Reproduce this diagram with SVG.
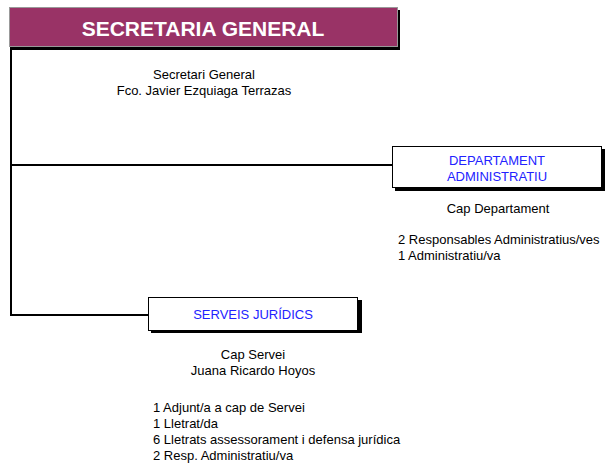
<svg xmlns="http://www.w3.org/2000/svg" width="608" height="468" viewBox="0 0 608 468">
<style>
.t{font-family:"Liberation Sans",Arial,sans-serif;font-size:13px;fill:#000}
.c{text-anchor:middle}
.b{font-family:"Liberation Sans",Arial,sans-serif;font-size:13px;fill:#2222ff;text-anchor:middle}
.sh{fill:#000}
.bx{fill:#fff;stroke:#000;stroke-width:1}
.ln{stroke:#000;stroke-width:2;fill:none}
</style>
<rect width="608" height="468" fill="#fff"/>
<g id="connectors">
<path class="ln" d="M11,47 V316"/>
<path class="ln" d="M11,165 H392"/>
<path class="ln" d="M11,315 H148"/>
</g>
<g id="secretaria">
<rect class="sh" x="10" y="10" width="390" height="40"/>
<rect x="9.5" y="7.5" width="388" height="39" fill="#993366" stroke="#999" stroke-width="1"/>
<text x="203" y="36" font-family="Liberation Sans,Arial,sans-serif" font-size="21" font-weight="bold" fill="#fff" text-anchor="middle">SECRETARIA GENERAL</text>
<text class="t c" x="204" y="79">Secretari General</text>
<text class="t c" x="204" y="95">Fco. Javier Ezquiaga Terrazas</text>
</g>
<g id="departament">
<rect class="sh" x="395" y="149" width="210" height="42"/>
<rect class="bx" x="392.5" y="146.5" width="209" height="41"/>
<text class="b" x="497" y="165">DEPARTAMENT</text>
<text class="b" x="497" y="181">ADMINISTRATIU</text>
<text class="t c" x="498" y="213">Cap Departament</text>
<text class="t" x="398" y="244">2 Responsables Administratius/ves</text>
<text class="t" x="398" y="260">1 Administratiu/va</text>
</g>
<g id="serveis">
<rect class="sh" x="151" y="300" width="211" height="33"/>
<rect class="bx" x="148.5" y="297.5" width="209" height="33"/>
<text class="b" x="253" y="319">SERVEIS JURÍDICS</text>
<text class="t c" x="253" y="359">Cap Servei</text>
<text class="t c" x="253" y="375">Juana Ricardo Hoyos</text>
<text class="t" x="153" y="412">1 Adjunt/a a cap de Servei</text>
<text class="t" x="153" y="428">1 Lletrat/da</text>
<text class="t" x="153" y="444">6 Lletrats assessorament i defensa jurídica</text>
<text class="t" x="153" y="460">2 Resp. Administratiu/va</text>
</g>
</svg>
